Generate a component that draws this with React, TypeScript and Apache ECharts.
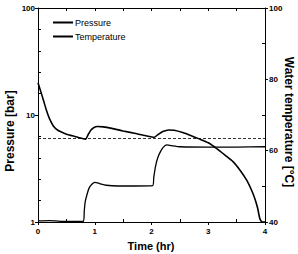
import React, { useEffect, useRef } from "react";
import * as echarts from "echarts";

const FONT = "'Liberation Sans Narrow', 'Liberation Sans', Arial, sans-serif";

const pressureTime = [0, 0.05, 0.1, 0.15, 0.2, 0.27, 0.35, 0.45, 0.55, 0.65, 0.75, 0.84, 0.88, 0.93, 0.98, 1.05, 1.15, 1.3, 1.5, 1.7, 1.9, 2.05, 2.12, 2.2, 2.3, 2.4, 2.55, 2.7, 2.85, 3.0, 3.15, 3.3, 3.44, 3.56, 3.68, 3.76, 3.82, 3.87, 3.91, 3.95, 4.0];
const pressureValues = [20, 16.5, 13.5, 11, 9.3, 7.9, 7.2, 6.8, 6.5, 6.3, 6.1, 5.95, 6.5, 7.2, 7.6, 7.8, 7.75, 7.5, 7.1, 6.75, 6.4, 6.2, 6.6, 7.0, 7.25, 7.2, 6.85, 6.4, 5.95, 5.5, 4.85, 4.2, 3.65, 3.05, 2.45, 2.0, 1.66, 1.35, 1.07, 1.0, 1.0];

const temperatureTime = [0, 0.2, 0.4, 0.6, 0.8, 0.815, 0.83, 0.86, 0.9, 0.95, 1.0, 1.05, 1.12, 1.2, 1.4, 1.7, 2.02, 2.04, 2.07, 2.11, 2.16, 2.21, 2.27, 2.35, 2.5, 3.0, 3.5, 4.0];
const temperatureValues = [40.3, 40.4, 40.2, 40.2, 40.2, 43, 45.5, 47.5, 49.5, 50.6, 51.1, 51.0, 50.6, 50.3, 50.1, 50.1, 50.2, 52.5, 55.5, 58, 59.8, 61, 61.6, 61.4, 61.1, 61.0, 61.0, 61.1];

const referencePressure = 6;

const xTickLabels = ["0", "1", "2", "3", "4"];
const seriesNames = ["Pressure", "Temperature"];

export default function App() {
  const ref = useRef<HTMLDivElement>(null);
  useEffect(() => {
    if (!ref.current) return;
    const chart = echarts.init(ref.current, null, { renderer: "svg" });
    const black = "#000";
    const tickLabel = { fontSize: 8, fontWeight: "bold" as const, color: black, fontFamily: FONT };
    const line = { show: true, onZero: false, lineStyle: { color: black, width: 1 } };
    chart.setOption({
      animation: false,
      backgroundColor: "#fff",
      grid: { left: 38, right: 33, top: 8, bottom: 32 },
      legend: {
        data: seriesNames,
        orient: "vertical",
        left: 48,
        top: 13,
        itemWidth: 20,
        itemHeight: 2,
        itemGap: 5,
        icon: "rect",
        textStyle: { fontSize: 9, color: black, fontFamily: FONT, padding: [0, 0, 0, -3] },
      },
      xAxis: [
        {
          type: "value", min: 0, max: 4, interval: 1, position: "bottom",
          axisLine: line,
          axisTick: { show: true, length: 3, lineStyle: { color: black } },
          axisLabel: { ...tickLabel, margin: 5, formatter: (v: number) => xTickLabels[Math.round(v)] ?? "" },
          splitLine: { show: false },
        },
        {
          type: "value", min: 0, max: 4, interval: 1, position: "bottom",
          axisLine: { show: false, onZero: false },
          axisTick: { show: false, inside: true },
          minorTick: { show: true, splitNumber: 2, length: 3, lineStyle: { color: black } },
          axisLabel: { show: false },
          splitLine: { show: false },
        },
        {
          type: "value", min: 0, max: 4, interval: 1, position: "top",
          axisLine: line,
          axisTick: { show: true, inside: true, length: 3, lineStyle: { color: black } },
          minorTick: { show: true, splitNumber: 2, length: 3, lineStyle: { color: black } },
          axisLabel: { show: false },
          splitLine: { show: false },
        },
      ],
      yAxis: [
        {
          type: "log", logBase: 10, min: 1, max: 100, position: "left",
          axisLine: line,
          axisTick: { show: true, length: 3, lineStyle: { color: black } },
          axisLabel: { ...tickLabel, margin: 3 },
          splitLine: { show: false },
        },
        {
          type: "value", min: 0, max: 2, interval: 1, position: "left",
          axisLine: { show: false, onZero: false },
          axisTick: { show: false, inside: true },
          minorTick: { show: true, splitNumber: 5, length: 3, lineStyle: { color: black } },
          axisLabel: { show: false },
          splitLine: { show: false },
        },
        {
          type: "value", min: 40, max: 100, interval: 20, position: "right",
          axisLine: line,
          axisTick: { show: true, length: 3, lineStyle: { color: black } },
          axisLabel: { ...tickLabel, margin: 4 },
          splitLine: { show: false },
        },
        {
          type: "value", min: 40, max: 100, interval: 20, position: "right",
          axisLine: { show: false, onZero: false },
          axisTick: { show: false, inside: true },
          minorTick: { show: true, splitNumber: 2, length: 3, lineStyle: { color: black } },
          axisLabel: { show: false },
          splitLine: { show: false },
        },
      ],
      series: [
        {
          name: seriesNames[0],
          type: "line",
          xAxisIndex: 0,
          yAxisIndex: 0,
          data: pressureTime.map((t, i) => [t, pressureValues[i]]),
          symbol: "none",
          smooth: 0.2,
          color: black,
          lineStyle: { color: black, width: 1.6 },
          markLine: {
            silent: true,
            symbol: "none",
            label: { show: false },
            lineStyle: { type: [3, 2], color: black, width: 0.8 },
            data: [{ yAxis: referencePressure }],
          },
        },
        {
          name: seriesNames[1],
          type: "line",
          xAxisIndex: 0,
          yAxisIndex: 2,
          data: temperatureTime.map((t, i) => [t, temperatureValues[i]]),
          symbol: "none",
          smooth: 0.2,
          color: black,
          lineStyle: { color: black, width: 1.3 },
        },
      ],
      graphic: [
        {
          type: "text", x: 10, y: 131, rotation: Math.PI / 2,
          style: { text: "Pressure [bar]", fontSize: 12, fontWeight: "bold", fontFamily: "'Liberation Sans', Arial, sans-serif", fill: black, align: "center", verticalAlign: "middle" },
        },
        {
          type: "text", x: 289, y: 122, rotation: -Math.PI / 2,
          style: { text: "Water temperature [°C]", fontSize: 12, fontWeight: "bold", fontFamily: "'Liberation Sans', Arial, sans-serif", fill: black, align: "center", verticalAlign: "middle" },
        },
        {
          type: "text", x: 151, y: 246,
          style: { text: "Time (hr)", fontSize: 11, fontWeight: "bold", fontFamily: FONT, fill: black, align: "center", verticalAlign: "middle" },
        },
      ],
    });
    return () => chart.dispose();
  }, []);
  return <div ref={ref} style={{ width: 298, height: 254, position: "absolute", left: 0, top: 0 }} />;
}
